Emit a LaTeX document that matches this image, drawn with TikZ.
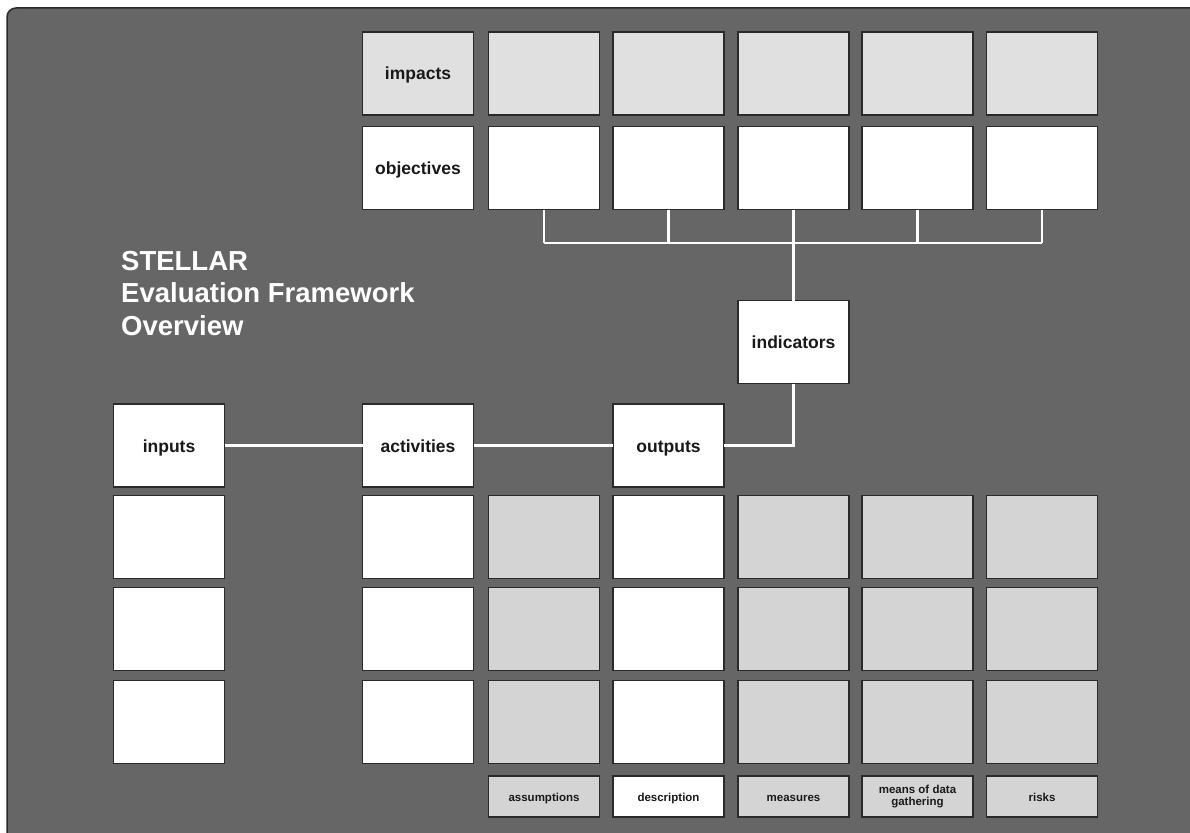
\documentclass[tikz,border=0pt]{standalone}
\usepackage{fontspec}
\setmainfont{Liberation Sans}
\definecolor{bgray}{HTML}{666666}
\definecolor{edge}{HTML}{2A2A2A}
\definecolor{topgray}{HTML}{E0E0E0}
\definecolor{lowgray}{HTML}{D4D4D4}
\tikzset{
  cell/.style={draw=edge, line width=1.1pt, minimum width=111, minimum height=83, inner sep=0pt, outer sep=0pt,
    text height=14.5pt, text depth=1.5pt,
    font=\fontsize{17.5}{20}\selectfont\bfseries, text=black!90},
  whitecell/.style={cell, fill=white},
  topcell/.style={cell, fill=topgray},
  lowcell/.style={cell, fill=lowgray},
  tag/.style={draw=edge, line width=1.1pt, minimum width=111, minimum height=41, inner sep=0pt, outer sep=0pt,
    align=center, font=\fontsize{11.5}{12.5}\selectfont\bfseries, text=black!90},
  onetag/.style={tag, text height=9.5pt, text depth=0.5pt},
  link/.style={draw=white, line width=2.6pt}
}
\begin{document}
\begin{tikzpicture}[x=1pt,y=-1pt]
\useasboundingbox (0,0) rectangle (1190,832);
\clip (0,0) rectangle (1190,832);
\fill[white] (0,0) rectangle (1190,832);
\draw[fill=bgray, draw=edge, line width=1.5pt, rounded corners=9pt] (7,8) rectangle (1210,850);

% title
\node[anchor=north west, inner sep=0pt, align=left, text=white,
  font=\fontsize{27.5}{32.5}\selectfont\bfseries] (title) at (121,251)
  {STELLAR\\Evaluation Framework\\Overview};

% top rows
\node[topcell] (imp) at (418,73.5) {impacts};
\node[topcell] (i1) at (544,73.5) {};
\node[topcell] (i2) at (668.5,73.5) {};
\node[topcell] (i3) at (793.5,73.5) {};
\node[topcell] (i4) at (917.5,73.5) {};
\node[topcell] (i5) at (1042,73.5) {};

\node[whitecell] (obj) at (418,168) {objectives};
\node[whitecell] (o1) at (544,168) {};
\node[whitecell] (o2) at (668.5,168) {};
\node[whitecell] (o3) at (793.5,168) {};
\node[whitecell] (o4) at (917.5,168) {};
\node[whitecell] (o5) at (1042,168) {};

\node[whitecell] (ind) at (793.5,342) {indicators};

% middle row
\node[whitecell] (inp) at (169,445.5) {inputs};
\node[whitecell] (act) at (418,445.5) {activities};
\node[whitecell] (out) at (668.5,445.5) {outputs};

% lower grid
\foreach \r/\y in {1/537,2/629,3/722}{
  \node[whitecell] (a\r) at (169,\y) {};
  \node[whitecell] (b\r) at (418,\y) {};
  \node[lowcell] (c\r) at (544,\y) {};
  \node[whitecell] (d\r) at (668.5,\y) {};
  \node[lowcell] (e\r) at (793.5,\y) {};
  \node[lowcell] (f\r) at (917.5,\y) {};
  \node[lowcell] (g\r) at (1042,\y) {};
}

% labels
\node[onetag, fill=lowgray] (lc) at (544,796.5) {assumptions};
\node[onetag, fill=white] (ld) at (668.5,796.5) {description};
\node[onetag, fill=lowgray] (le) at (793.5,796.5) {measures};
\node[tag, fill=lowgray] (lf) at (917.5,796.5) {means of data\\gathering};
\node[onetag, fill=lowgray] (lg) at (1042,796.5) {risks};

% connectors
\coordinate (bus) at (0,243);
\foreach \n in {o1,o2,o4,o5}{
  \draw[link] (\n.south) -- (\n.south |- bus);
}
\draw[link] (o1.south |- bus) -- (o5.south |- bus);
\draw[link] (o3.south) -- (ind.north);
\draw[link] (ind.south) |- (out.east);
\draw[link] (inp.east) -- (act.west);
\draw[link] (act.east) -- (out.west);
\end{tikzpicture}
\end{document}
